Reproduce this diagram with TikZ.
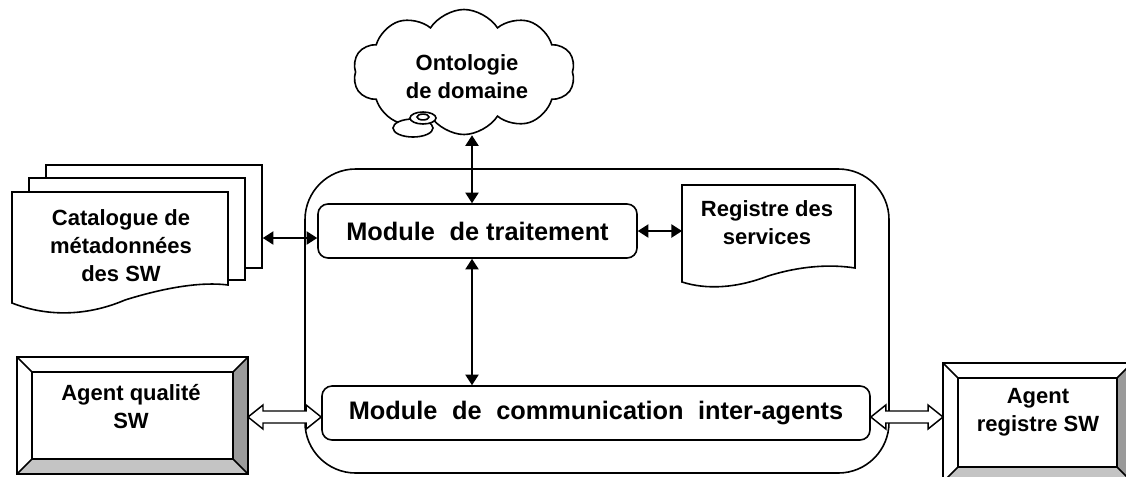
\documentclass[tikz,border=0pt]{standalone}
\usepackage{fontspec}
\setmainfont{Liberation Sans}
\usetikzlibrary{shapes.symbols,arrows.meta,calc}
\definecolor{bevdark}{HTML}{9A9A9A}
\definecolor{bevlight}{HTML}{C4C4C4}
\newcommand{\bevelbox}[1]{%
  \fill[bevdark] (#1.north east) -- (#1.south east) -- ($(#1.south east)+(-15,-15)$) -- ($(#1.north east)+(-15,15)$) -- cycle;
  \fill[bevlight] (#1.south west) -- (#1.south east) -- ($(#1.south east)+(-15,-15)$) -- ($(#1.south west)+(15,-15)$) -- cycle;
  \draw ($(#1.north west)+(15,15)$) rectangle ($(#1.south east)+(-15,-15)$);
  \draw (#1.north west) -- ++(15,15) (#1.north east) -- ++(-15,15) (#1.south west) -- ++(15,-15) (#1.south east) -- ++(-15,-15);
  \draw (#1.north west) rectangle (#1.south east);}
\newcommand{\hollowarrow}[2]{%
  \draw[hollow] (#1) -- ($(#1)+(15,-12)$) -- ($(#1)+(15,-6)$) -- ($(#2)+(-15,-6)$) -- ($(#2)+(-15,-12)$) -- (#2) -- ($(#2)+(-15,12)$) -- ($(#2)+(-15,6)$) -- ($(#1)+(15,6)$) -- ($(#1)+(15,12)$) -- cycle;}
\begin{document}
\begin{tikzpicture}[x=0.75pt,y=-0.75pt,
  line width=1.2pt, line join=miter,
  lbl/.style={font=\fontsize{16.5}{21}\selectfont\bfseries, align=center, inner sep=0pt},
  module/.style={draw, rounded corners=7.5pt, inner sep=0pt, font=\fontsize{19}{23}\selectfont\bfseries},
  arr/.style={{Triangle[length=8pt,width=10pt]}-{Triangle[length=8pt,width=10pt]}, line width=1.1pt},
  hollow/.style={draw, fill=white, line width=1.1pt},
  pagebox/.style={draw, fill=white, inner sep=0pt},
  frame/.style={inner sep=0pt, outer sep=0pt}]
\useasboundingbox (0,0) rectangle (1126,476);
\clip (0,0) rectangle (1126,476);

% main system box
\node[draw, rounded corners=38pt, minimum width=438pt, minimum height=228pt, frame] (sys) at (597,321) {};

% modules
\node[module, minimum width=239.25pt, minimum height=40.5pt] (trait) at (477.5,231) {Module\hspace{0.3em} de traitement};
\node[module, minimum width=411pt, minimum height=40.5pt] (comm) at (596,413) {Module\hspace{0.3em} de\hspace{0.3em} communication\hspace{0.3em} inter-agents};

% catalogue pages
\node[pagebox, minimum width=162pt, minimum height=77.25pt] (cat3) at (154,216.5) {};
\node[pagebox, minimum width=162pt, minimum height=76.5pt] (cat2) at (137,229) {};
\node[frame, minimum width=162pt, minimum height=69.75pt] (cat1) at (120,238.5) {};
\draw[fill=white] (cat1.south east) -- (cat1.north east) -- (cat1.north west) -- ($(cat1.south west)+(0,18)$)
  .. controls ($(cat1.south west)+(38,33)$) and ($(cat1.south west)+(78,30)$) .. ($(cat1.south west)+(113,15)$)
  .. controls ($(cat1.south west)+(145,5)$) and ($(cat1.south west)+(185,-4)$) .. (cat1.south east) -- cycle;
\node[lbl] (cattext) at (121,246) {Catalogue de\\métadonnées\\des SW};

% registre des services
\node[frame, minimum width=129.75pt, minimum height=62.25pt] (reg) at (768.5,226.5) {};
\draw[fill=white] (reg.south east) -- (reg.north east) -- (reg.north west) -- ($(reg.south west)+(0,14)$)
  .. controls ($(reg.south west)+(25,22)$) and ($(reg.south west)+(55,20)$) .. ($(reg.south west)+(86,8)$)
  .. controls ($(reg.south west)+(118,-2)$) and ($(reg.south west)+(148,-4)$) .. (reg.south east) -- cycle;
\node[lbl] (regtext) at (767,222.5) {Registre des\\services};

% agents
\node[frame, minimum width=173.25pt, minimum height=87.75pt] (aq) at (132.5,415.5) {};
\bevelbox{aq}
\node[lbl] (aqtext) at (131,406.5) {Agent qualité\\SW};
\node[frame, minimum width=141.75pt, minimum height=89.25pt] (ar) at (1037.5,422.5) {};
\bevelbox{ar}
\node[lbl] (artext) at (1038,412) {Agent\\registre SW};

% ontology cloud
\node[cloud, cloud puffs=10, cloud puff arc=115, aspect=1.8, draw, fill=white, minimum width=166.5pt, minimum height=93.75pt, inner sep=0pt, lbl] (onto) at (464,72) {};
\node[lbl] (ontotext) at (467,77) {Ontologie\\de domaine};
\draw[fill=white] (413,128) ellipse [x radius=15pt, y radius=6.75pt];
\draw[fill=white] (423,118) ellipse [x radius=9.75pt, y radius=4.5pt];
\draw (423,117) ellipse [x radius=4.5pt, y radius=2.2pt];

% connectors
\coordinate (vx) at (472,0);
\coordinate (cy) at (0,238);
\coordinate (ha) at (0,417);
\draw[arr] (onto.south -| vx) -- (trait.north -| vx);
\draw[arr] (trait.south -| vx) -- (comm.north -| vx);
\draw[arr] (cat3.east |- cy) -- (trait.west |- cy);
\draw[arr] (trait.east) -- (reg.west |- trait.east);
\coordinate (h1a) at (aq.east |- ha);
\coordinate (h1b) at (comm.west |- ha);
\coordinate (h2a) at (comm.east |- ha);
\coordinate (h2b) at (ar.west |- ha);
\hollowarrow{h1a}{h1b}
\hollowarrow{h2a}{h2b}
\end{tikzpicture}
\end{document}
